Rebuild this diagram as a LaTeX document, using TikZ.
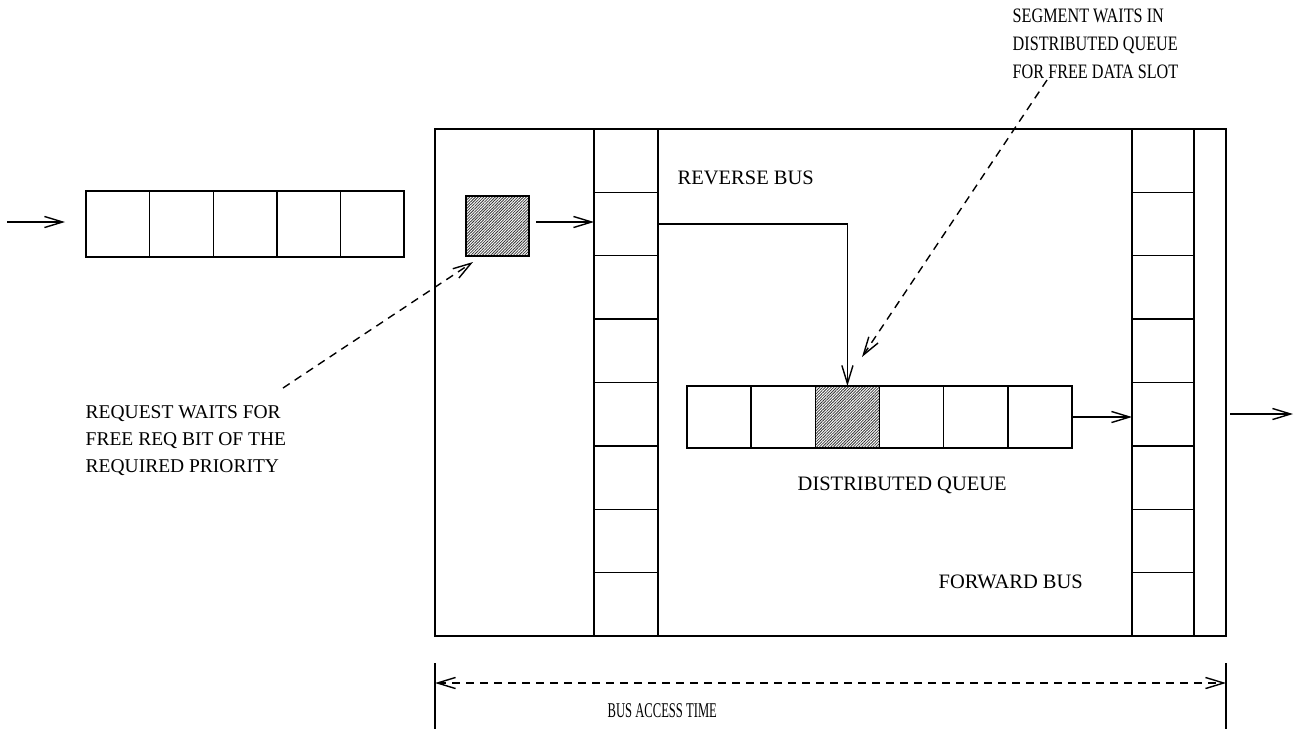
\documentclass[tikz,border=0pt]{standalone}
\usepackage{fontspec}
\setmainfont{Liberation Serif}
\usetikzlibrary{arrows.meta,patterns.meta}
\begin{document}
\begin{tikzpicture}[x=1pt,y=-1pt,
  line width=1.4pt,
  cell/.style={draw,rectangle,inner sep=0pt,outer sep=0pt},
  lq/.style={cell,minimum width=63.6pt,minimum height=66pt},
  rq/.style={cell,minimum width=64pt,minimum height=63.375pt},
  fq/.style={cell,minimum width=62pt,minimum height=63.375pt},
  dq/.style={cell,minimum width=64.17pt,minimum height=62pt},
  hatched/.style={fill=gray!55,pattern={Lines[angle=45,distance=2pt,line width=0.8pt]},pattern color=black!80},
  lbl/.style={anchor=base west,inner sep=0pt,font=\fontsize{20.5}{28}\selectfont},
  flow/.style={-{Straight Barb[angle=34:19pt]}},
  note/.style={flow,dashed,dash pattern=on 8pt off 6pt},
  dim/.style={{Straight Barb[angle=34:19pt]}-{Straight Barb[angle=34:19pt]},dashed,dash pattern=on 8pt off 6pt}]
\useasboundingbox (0,0) rectangle (1303,729);

% outer frame
\node[cell,minimum width=791pt,minimum height=507pt] (main) at (830.5,382.5) {};

% left queue
\foreach \i in {1,...,5}
  \node[lq] (q\i) at ({86+63.6*(\i-0.5)},224) {};

% reverse bus column
\foreach \i in {1,...,8}
  \node[rq] (r\i) at (626,{129+63.375*(\i-0.5)}) {};

% forward bus column
\foreach \i in {1,...,8}
  \node[fq] (f\i) at (1163,{129+63.375*(\i-0.5)}) {};

% distributed queue
\foreach \i in {1,...,6}
  \node[dq] (d\i) at ({687+64.17*(\i-0.5)},417) {};
\node[dq,hatched,draw] (d3h) at (d3) {};

% small waiting request
\node[cell,hatched,draw,minimum width=63pt,minimum height=60pt] (s) at (497.5,226) {};

% coordinates for free ends
\coordinate (inA) at (7,222);
\coordinate (inB) at (65,222);
\coordinate (sA) at (536,222);
\coordinate (outA) at (1230,414);
\coordinate (outB) at (1293,414);
\coordinate (segA) at (1047,80);
\coordinate (segB) at (862,357);
\coordinate (reqA) at (283,388);
\coordinate (reqB) at (473,262);
\coordinate (tL1) at (435,663);
\coordinate (tL2) at (435,729);
\coordinate (tR1) at (1226,663);
\coordinate (tR2) at (1226,729);
\coordinate (dimL) at (435,683);
\coordinate (dimR) at (1226,683);

% connectors
\draw[flow] (inA) -- (inB);
\draw[flow] (sA) -- (sA -| r2.west);
\draw[flow] (r2.east) -| (d3.north);
\draw[flow] (d6.east) -- (d6.east -| f5.west);
\draw[flow] (outA) -- (outB);
\draw[note] (segA) -- (segB);
\draw[note] (reqA) -- (reqB);

% dimension
\draw (tL1) -- (tL2);
\draw (tR1) -- (tR2);
\draw[dim] (dimL) -- (dimR);

% labels
\node[lbl] (rev) at (677,184) {REVERSE BUS};
\node[lbl] (fwd) at (938,588) {FORWARD BUS};
\node[lbl] (dql) at (797,490) {DISTRIBUTED QUEUE};
\node[lbl,font=\fontsize{21}{28}\selectfont] (bat) at (607,717) {\scalebox{0.6}[1]{BUS ACCESS TIME}};
\node[lbl,font=\fontsize{19.5}{27}\selectfont] (r1t) at (85,418) {REQUEST WAITS FOR};
\node[lbl,font=\fontsize{19.5}{27}\selectfont] (r2t) at (85,445) {FREE REQ BIT OF THE};
\node[lbl,font=\fontsize{19.5}{27}\selectfont] (r3t) at (85,472) {REQUIRED PRIORITY};
\node[lbl] (s1t) at (1012,22) {\scalebox{0.79}[1]{SEGMENT WAITS IN}};
\node[lbl] (s2t) at (1012,50) {\scalebox{0.79}[1]{DISTRIBUTED QUEUE}};
\node[lbl] (s3t) at (1012,78) {\scalebox{0.79}[1]{FOR FREE DATA SLOT}};
\end{tikzpicture}
\end{document}
